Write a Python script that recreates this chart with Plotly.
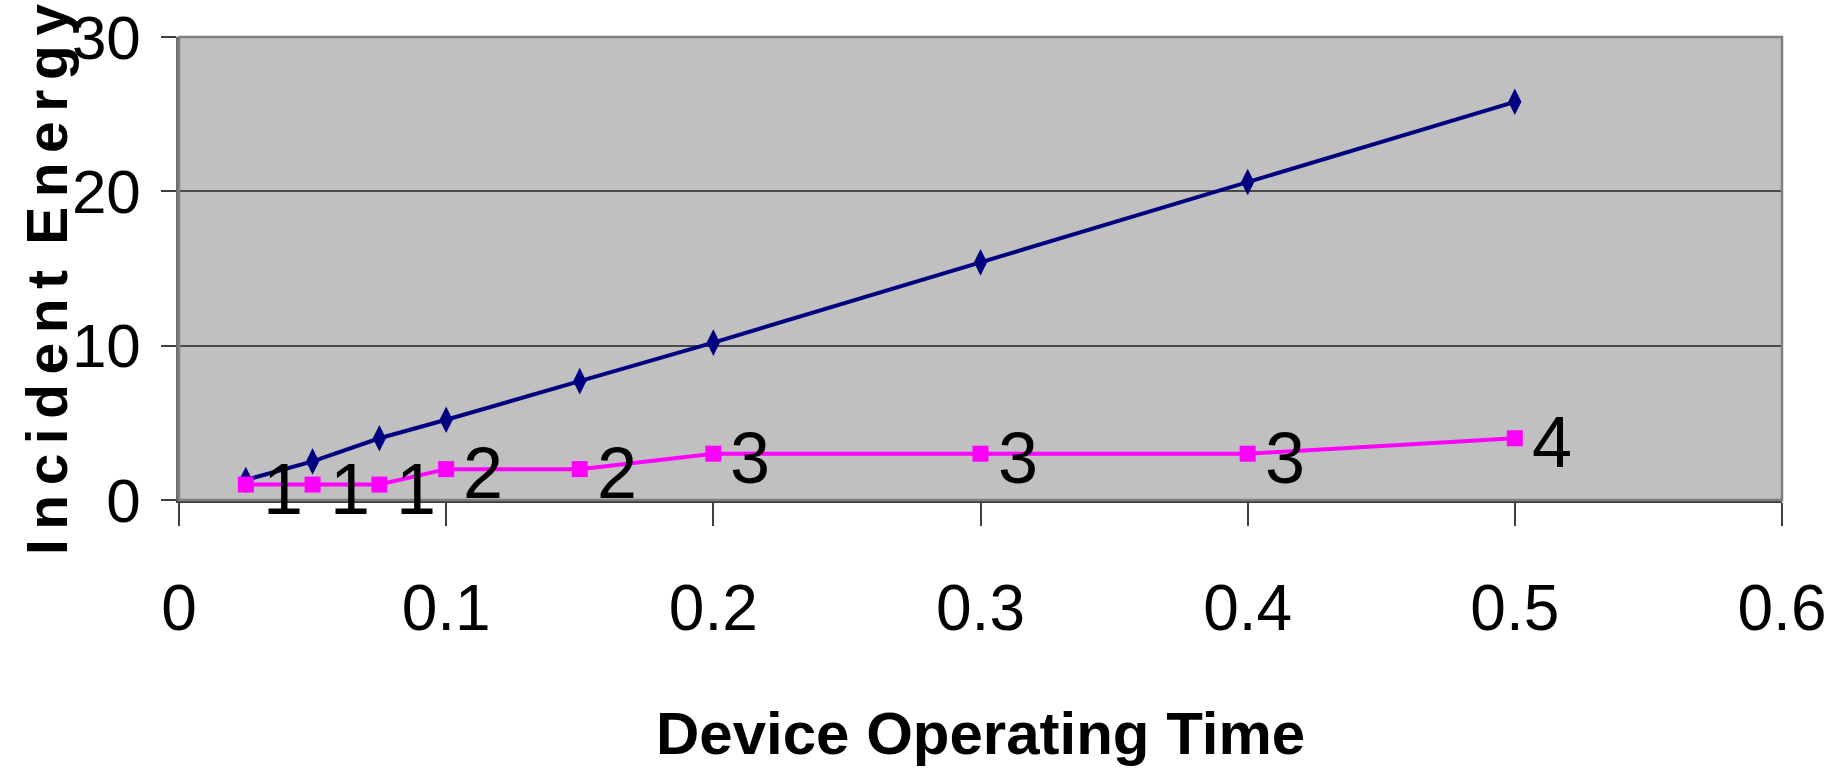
import plotly.graph_objects as go

# Operating time of the device and the resulting incident energy
operating_time = [0.025, 0.05, 0.075, 0.1, 0.15, 0.2, 0.3, 0.4, 0.5]
incident_energy = [1.3, 2.5, 4.0, 5.2, 7.7, 10.2, 15.4, 20.6, 25.8]
hazard_category = [1, 1, 1, 2, 2, 3, 3, 3, 4]

x_ticks = [0, 0.1, 0.2, 0.3, 0.4, 0.5, 0.6]
y_ticks = [0, 10, 20, 30]

FONT = "Liberation Sans, Arial, sans-serif"

W, H = 1839, 771
ML, MR, MT, MB = 179, 57, 37, 271
PW, PH = W - ML - MR, H - MT - MB

fig = go.Figure()

fig.add_trace(go.Scatter(
    x=operating_time, y=incident_energy,
    mode="lines+markers",
    line=dict(color="#000080", width=4),
    marker=dict(symbol="diamond-tall", size=19, color="#000080"),
    cliponaxis=False,
    showlegend=False,
))

fig.add_trace(go.Scatter(
    x=operating_time, y=hazard_category,
    mode="lines+markers",
    line=dict(color="#FF00FF", width=4),
    marker=dict(symbol="square", size=16, color="#FF00FF"),
    cliponaxis=False,
    showlegend=False,
))

# category number written beside each point of the lower series
for t, c in zip(operating_time, hazard_category):
    fig.add_annotation(
        x=t, y=c, xref="x", yref="y", text=str(c), showarrow=False,
        xanchor="center", yanchor="middle", xshift=37, yshift=-4,
        font=dict(family=FONT, size=72, color="black"),
    )

# grey frame around the plotting area (top and right edges)
fig.add_shape(type="rect", xref="paper", yref="paper", x0=0, x1=1, y0=0, y1=1,
              line=dict(color="#808080", width=2.5), layer="above")

# axis titles
fig.add_annotation(
    text="Device Operating Time",
    xref="paper", yref="paper", x=0.5, y=-(733 - (MT + PH)) / PH,
    xanchor="center", yanchor="middle", showarrow=False,
    font=dict(family=FONT, size=60, color="black", weight="bold"),
)
SP = "\u2006"  # narrow letter spacing for the vertical title
fig.add_annotation(
    text=SP.join("Incident") + " " + SP + SP.join("Energy"),
    xref="paper", yref="paper", x=(47 - ML) / PW, y=(MT + PH - 280) / PH,
    xanchor="center", yanchor="middle", textangle=-90, showarrow=False,
    font=dict(family=FONT, size=57, color="black", weight="bold"),
)

fig.update_layout(
    width=W, height=H,
    margin=dict(l=ML, r=MR, t=MT, b=MB, pad=0, autoexpand=False),
    paper_bgcolor="white",
    plot_bgcolor="#C0C0C0",
    font=dict(family=FONT, color="black"),
    xaxis=dict(
        range=[0, 0.6], tickvals=x_ticks, ticktext=[f"{v:g}" for v in x_ticks],
        showgrid=False, zeroline=False, automargin=False,
        showline=True, linecolor="#404040", linewidth=2.5,
        ticks="outside", ticklen=23, tickwidth=1.5, tickcolor="#404040",
        tickfont=dict(family=FONT, size=64, color="black"),
        ticklabelstandoff=27, ticklabeloverflow="allow",
    ),
    yaxis=dict(
        range=[0, 30], tickvals=y_ticks,
        showgrid=True, gridcolor="#4a4a4a", gridwidth=1.5,
        zeroline=False, automargin=False,
        showline=True, linecolor="#6a6a6a", linewidth=2.5,
        ticks="outside", ticklen=15, tickwidth=1.5, tickcolor="#404040",
        tickfont=dict(family=FONT, size=62, color="black"),
        ticklabelstandoff=8, ticklabeloverflow="allow",
    ),
)

fig.write_html("out.html")
